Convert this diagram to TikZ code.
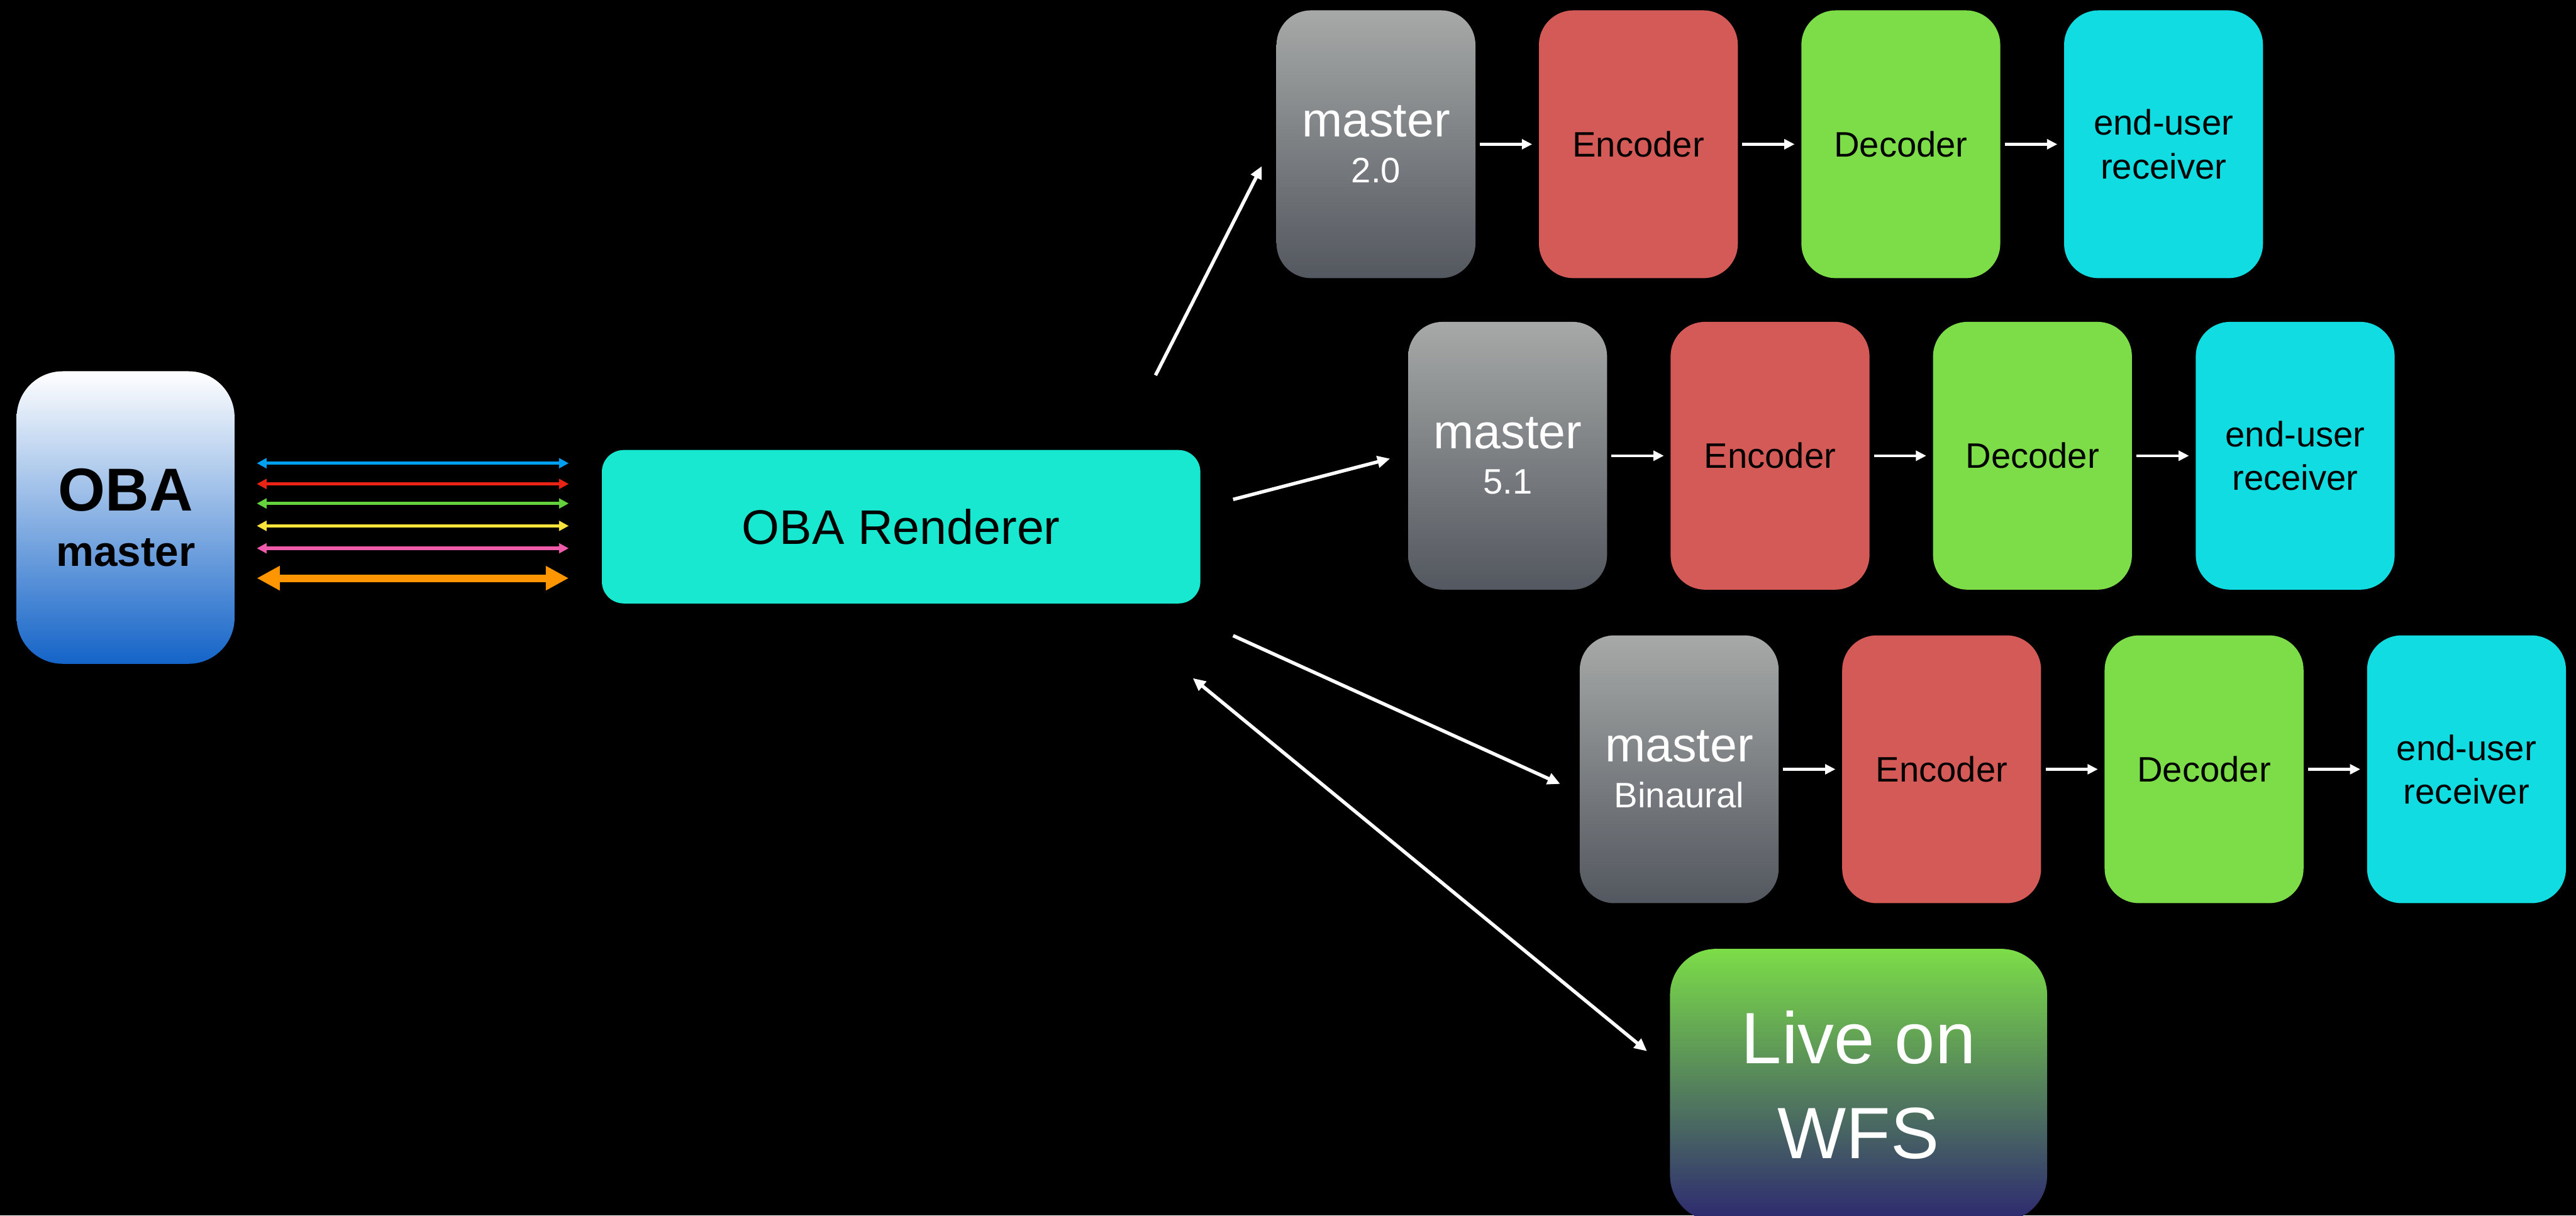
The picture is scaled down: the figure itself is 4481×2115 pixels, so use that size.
\documentclass[tikz,border=0pt]{standalone}
\usepackage{fontspec}
\setmainfont{Liberation Sans}
\usetikzlibrary{arrows.meta}

\begin{document}
\begin{tikzpicture}[x=0.1mm, y=-0.1mm,
  box/.style={rounded corners=6mm, minimum width=34.6mm, minimum height=46.6mm, inner sep=0pt, align=center, font=\boxfont},
  masterbox/.style={box, top color=mastertop, bottom color=masterbottom, text=white, font=\subfont},
  encbox/.style={box, fill=encoderred},
  decbox/.style={box, fill=decodergreen},
  recbox/.style={box, fill=receivercyan},
  flow/.style={white, line width=0.5mm, -{Triangle[length=1.8mm, width=1.7mm]}, shorten <=0.7mm, shorten >=1.1mm},
  feed/.style={white, line width=0.6mm, >={Triangle[length=2.2mm, width=2mm]}},
  bus/.style={line width=0.6mm, >={Triangle[length=1.7mm, width=1.7mm]}, <->, shorten >=5.7mm}
]

\def\boxfont{\fontsize{17.5}{21.5}\selectfont}
\def\masterfont{\fontsize{24}{22.7}\selectfont}
\def\subfont{\fontsize{17.5}{22.7}\selectfont}
\definecolor{mastertop}{RGB}{166,169,167}
\definecolor{masterbottom}{RGB}{83,87,95}
\definecolor{encoderred}{RGB}{212,90,88}
\definecolor{decodergreen}{RGB}{124,221,72}
\definecolor{receivercyan}{RGB}{16,220,225}
\definecolor{renderteal}{RGB}{24,232,208}
\definecolor{obablue}{RGB}{20,100,200}
\definecolor{obamid}{RGB}{175,185,222}
\definecolor{wfsbottom}{RGB}{45,40,112}
\definecolor{busblue}{RGB}{0,160,240}
\definecolor{busred}{RGB}{235,35,20}
\definecolor{busgreen}{RGB}{100,210,60}
\definecolor{busyellow}{RGB}{250,228,60}
\definecolor{buspink}{RGB}{240,90,170}
\definecolor{busorange}{RGB}{255,150,0}

\fill[black] (0,0) rectangle (4481,2115);
\useasboundingbox (0,0) rectangle (4481,2115);

\node[rounded corners=8mm, minimum width=37.9mm, minimum height=50.9mm, top color=white, middle color=obamid, bottom color=obablue, align=center, font=\bfseries\fontsize{21}{27.2}\selectfont] (oba) at (218.5,900.5) {{\fontsize{30}{27.2}\selectfont OBA}\\master};

\node[rounded corners=3.8mm, minimum width=104.1mm, minimum height=26.7mm, fill=renderteal, font=\fontsize{24}{28}\selectfont] (render) at (1567.5,916.5) {OBA Renderer};

\node[masterbox] (m20) at (2393.5,251) {{\masterfont master}\\2.0};
\node[encbox] (enc20) at (2850,251) {Encoder};
\node[decbox] (dec20) at (3306.5,251) {Decoder};
\node[recbox] (rec20) at (3763.5,251) {end-user\\receiver};

\node[masterbox] (m51) at (2622.5,793) {{\masterfont master}\\5.1};
\node[encbox] (enc51) at (3079,793) {Encoder};
\node[decbox] (dec51) at (3535.5,793) {Decoder};
\node[recbox] (rec51) at (3992.5,793) {end-user\\receiver};

\node[masterbox] (mbin) at (2921,1338.5) {{\masterfont master}\\Binaural};
\node[encbox] (encbin) at (3377.5,1338.5) {Encoder};
\node[decbox] (decbin) at (3834,1338.5) {Decoder};
\node[recbox] (recbin) at (4290.5,1338.5) {end-user\\receiver};

\begin{scope}
\clip (0,0) rectangle (4481,2115);
\node[rounded corners=8mm, minimum width=65.6mm, minimum height=47.4mm, top color=decodergreen, bottom color=wfsbottom, text=white, align=center, font=\fontsize{36}{46.8}\selectfont] (wfs) at (3233,1888) {Live on\\WFS};
\end{scope}

\draw[flow] (m20) -- (enc20);
\draw[flow] (enc20) -- (dec20);
\draw[flow] (dec20) -- (rec20);
\draw[flow] (m51) -- (enc51);
\draw[flow] (enc51) -- (dec51);
\draw[flow] (dec51) -- (rec51);
\draw[flow] (mbin) -- (encbin);
\draw[flow] (encbin) -- (decbin);
\draw[flow] (decbin) -- (recbin);

\coordinate (out20) at (2010,653);
\coordinate (in20) at (2195,289);
\coordinate (out51) at (2145,869);
\coordinate (in51) at (2418,798);
\coordinate (outbin) at (2145,1106);
\coordinate (inbin) at (2714,1364);
\coordinate (backwfs) at (2075,1180);
\coordinate (inwfs) at (2865,1829);

\draw[feed, ->] (out20) -- (in20);
\draw[feed, ->] (out51) -- (in51);
\draw[feed, ->] (outbin) -- (inbin);
\draw[feed, <->] (backwfs) -- (inwfs);

\draw[bus, busblue] ([xshift=3.8mm, yshift=9.45mm]oba.east) coordinate (b1) -- (b1 -| render.west);
\draw[bus, busred] ([xshift=3.8mm, yshift=5.85mm]oba.east) coordinate (b2) -- (b2 -| render.west);
\draw[bus, busgreen] ([xshift=3.8mm, yshift=2.45mm]oba.east) coordinate (b3) -- (b3 -| render.west);
\draw[bus, busyellow] ([xshift=3.8mm, yshift=-1.45mm]oba.east) coordinate (b4) -- (b4 -| render.west);
\draw[bus, buspink] ([xshift=3.8mm, yshift=-5.35mm]oba.east) coordinate (b5) -- (b5 -| render.west);
\draw[bus, busorange, line width=1.3mm, >={Triangle[length=4mm, width=4mm]}] ([xshift=3.8mm, yshift=-10.55mm]oba.east) coordinate (b6) -- (b6 -| render.west);

\end{tikzpicture}
\end{document}
